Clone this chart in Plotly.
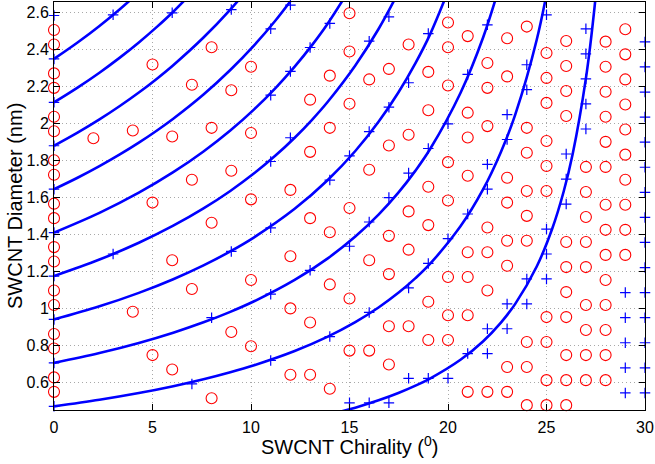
import plotly.graph_objects as go

# ---------------- data: SWCNT diameters (nm) grouped by chirality angle (deg) ----------------
angles = [0, 2, 3, 4, 5, 6, 7, 8, 9, 10, 11, 12, 13, 14, 15,
          16, 17, 18, 19, 20, 21, 22, 23, 24, 25, 26, 27, 28, 29, 30]

# semiconducting tubes (red circles)
semi_00 = [0.5481, 0.6264, 0.7830, 0.8613, 1.0180, 1.0963, 1.2529, 1.3312, 1.4878, 1.5661,
           1.7227, 1.8010, 1.9576, 2.0359, 2.1925, 2.2708, 2.4274, 2.5057]
semi_02 = [1.9196]
semi_03 = []
semi_04 = [0.9811, 1.9623]
semi_05 = [0.7470, 1.5720, 2.3189]
semi_06 = [0.6690, 1.2602, 1.9292]
semi_07 = [1.1046, 1.6958, 2.2092]
semi_08 = [0.5135, 1.4628, 1.9763, 2.4122]
semi_09 = [0.8720, 1.7439, 2.1799]
semi_10 = [0.7947, 1.1535, 1.5894, 1.9482, 2.3070]
semi_11 = []
semi_12 = [0.6410, 0.9997, 1.2819, 1.6406]
semi_13 = [0.6410, 0.9232, 1.4878, 1.8464, 2.1287]
semi_14 = [0.5647, 1.1293, 1.4117, 1.9763, 2.2586]
semi_15 = [0.7712, 1.0535, 1.5424, 2.1069, 2.3892, 2.5958]
semi_16 = [0.7712, 1.2602, 1.7492, 2.2382]
semi_17 = [0.6960, 0.9031, 1.1850, 1.3920, 1.8809, 2.2950]
semi_18 = [0.9031, 1.3173, 1.5244, 1.9387, 2.4274]
semi_19 = [0.8287, 1.0359, 1.4502, 1.6574, 2.0718, 2.2789]
semi_20 = [0.8287, 0.9622, 1.1693, 1.5836, 1.7908, 2.2051, 2.4122, 2.5458]
semi_21 = [0.5481, 0.9622, 1.1693, 1.3033, 1.7174, 1.9244, 2.0584, 2.4725]
semi_22 = [0.5481, 1.0963, 1.3033, 1.4375, 1.9856, 2.1925, 2.3268]
semi_23 = [0.5481, 0.6826, 1.2306, 1.3653, 1.5720, 1.7066, 2.2546, 2.4613]
semi_24 = [0.4763, 0.6826, 0.8175, 1.3653, 1.5001, 1.6350, 1.8414, 1.9763, 2.5240]
semi_25 = [0.4763, 0.6116, 0.8175, 0.9526, 1.6350, 1.7701, 1.9052, 2.1113, 2.2464, 2.3815]
semi_26 = [0.4763, 0.6116, 0.7470, 0.9526, 1.0878, 1.2231, 1.3585, 2.0404, 2.1757, 2.3110,
           2.4463]
semi_27 = [0.6116, 0.7470, 0.8824, 1.0180, 1.2231, 1.3585, 1.4940, 1.6294, 1.7649]
semi_28 = [0.6116, 0.7470, 0.8824, 1.0180, 1.1535, 1.2891, 1.4246, 1.5602, 1.7649, 1.9004,
           2.0359, 2.1714, 2.3070, 2.4425]
semi_29 = [1.2891, 1.4246, 1.5602, 1.6958, 1.8314, 1.9670, 2.1025, 2.2382, 2.3738, 2.5094]
semi_30 = []

# metallic tubes (blue plus signs)
metal_00 = [0.4698, 0.7047, 0.9397, 1.1746, 1.4095, 1.6444, 1.8793, 2.1142, 2.3491, 2.5840]
metal_02 = []
metal_03 = [1.2938, 2.5876]
metal_04 = []
metal_05 = []
metal_06 = [2.5982]
metal_07 = [0.5912]
metal_08 = [0.9494]
metal_09 = [1.3079, 2.6159]
metal_10 = []
metal_11 = [0.7177, 1.0765, 1.4353, 1.7942, 2.1530, 2.5118]
metal_12 = [1.9228, 2.2816, 2.6404]
metal_13 = [1.2055, 2.4110]
metal_14 = [0.8470, 1.6940, 2.5410]
metal_15 = [0.4890, 1.3358, 1.8247]
metal_16 = [0.4890, 0.9780, 1.4670, 1.9560, 2.4451]
metal_17 = [0.4890, 1.5990, 2.0880, 2.5769]
metal_18 = [0.6215, 1.1102, 1.7316, 2.2203]
metal_19 = [0.6215, 1.2431, 1.8646, 2.4861]
metal_20 = [0.6215, 1.3765, 1.9979]
metal_21 = [0.7551, 1.5103, 2.2655]
metal_22 = [0.7551, 0.8894, 1.6444, 1.7787, 2.5337]
metal_23 = [0.8894, 1.0240, 1.9133, 2.0479]
metal_24 = [1.0240, 1.1588, 2.1827, 2.3176]
metal_25 = [1.1588, 1.2938, 1.4289, 2.5876]
metal_26 = [1.5641, 1.6994, 1.8347]
metal_27 = [1.9701, 2.1055, 2.2409, 2.3764, 2.5118]
metal_28 = []
metal_29 = [0.5425, 0.6781, 0.8138, 0.9494, 1.0850]
metal_30 = [0.5425, 0.6781, 0.8138, 0.9494, 1.0850, 1.2206, 1.3563, 1.4919, 1.6275, 1.7631,
            1.8988, 2.0344, 2.1700, 2.3056, 2.4413]

# constant (n-m) family curves: chirality angle (deg) and diameter (nm)
fam03_x = [13.898, 15.295, 16.474, 17.480, 18.349, 19.107, 20.633, 21.787, 22.687, 23.413,
           24.504, 25.285, 25.872, 26.329, 26.996, 27.457, 27.796]
fam03_y = [0.4235, 0.4627, 0.5022, 0.5418, 0.5816, 0.6215, 0.7217, 0.8222, 0.9230, 1.0240,
           1.2263, 1.4289, 1.6318, 1.8347, 2.2409, 2.6473, 3.0539]
fam06_x = [0, 2.307, 4.307, 6.053, 7.589, 8.948, 10.159, 12.217, 13.898, 15.295, 16.474,
           17.480, 18.349, 19.107, 20.633, 21.787, 22.687, 23.413, 24.504, 25.285]
fam06_y = [0.4698, 0.5055, 0.5418, 0.5788, 0.6162, 0.6540, 0.6921, 0.7691, 0.8470, 0.9255,
           1.0044, 1.0837, 1.1632, 1.2430, 1.4433, 1.6444, 1.8460, 2.0479, 2.4526, 2.8578]
fam09_x = [0, 2.307, 4.307, 6.053, 7.589, 8.948, 10.159, 12.217, 13.898, 15.295, 16.474,
           17.480, 18.349, 19.107, 20.633, 21.787, 22.687]
fam09_y = [0.7047, 0.7582, 0.8128, 0.8682, 0.9243, 0.9810, 1.0382, 1.1537, 1.2705, 1.3882,
           1.5066, 1.6255, 1.7449, 1.8646, 2.1650, 2.4666, 2.7690]
fam12_x = [0, 2.307, 4.307, 6.053, 7.589, 8.948, 10.159, 12.217, 13.898, 15.295, 16.474,
           17.480, 18.349, 19.107, 20.633]
fam12_y = [0.9397, 1.0110, 1.0837, 1.1575, 1.2323, 1.3079, 1.3842, 1.5383, 1.6940, 1.8509,
           2.0088, 2.1673, 2.3265, 2.4861, 2.8867]
fam15_x = [0, 2.307, 4.307, 6.053, 7.589, 8.948, 10.159, 11.242, 12.217, 13.098, 13.898,
           15.295, 16.474, 17.480]
fam15_y = [1.1746, 1.2637, 1.3546, 1.4469, 1.5404, 1.6349, 1.7302, 1.8263, 1.9229, 2.0200,
           2.1175, 2.3136, 2.5109, 2.7092]
fam18_x = [0, 2.307, 4.307, 6.053, 7.589, 8.948, 10.159, 11.242, 12.217, 13.098, 13.898, 15.295]
fam18_y = [1.4095, 1.5164, 1.6255, 1.7363, 1.8485, 1.9619, 2.0763, 2.1915, 2.3074, 2.4239,
           2.5410, 2.7764]
fam21_x = [0, 1.196, 2.307, 3.341, 4.307, 5.209, 6.053, 7.589, 8.948, 10.159, 11.242, 12.217]
fam21_y = [1.6444, 1.7064, 1.7692, 1.8325, 1.8964, 1.9608, 2.0257, 2.1566, 2.2889, 2.4223,
           2.5568, 2.6920]
fam24_x = [0, 1.196, 2.307, 3.341, 4.307, 5.209, 6.053, 7.589, 8.948, 10.159]
fam24_y = [1.8793, 1.9502, 2.0219, 2.0943, 2.1673, 2.2409, 2.3151, 2.4647, 2.6159, 2.7684]
fam27_x = [0, 1.196, 2.307, 3.341, 4.307, 5.209, 6.053, 7.589]
fam27_y = [2.1142, 2.1940, 2.2746, 2.3561, 2.4382, 2.5210, 2.6044, 2.7728]
fam30_x = [0, 1.196, 2.307, 3.341, 4.307]
fam30_y = [2.3491, 2.4378, 2.5274, 2.6179, 2.7092]

x_ticks = [0, 5, 10, 15, 20, 25, 30]
y_ticks = [0.6, 0.8, 1.0, 1.2, 1.4, 1.6, 1.8, 2.0, 2.2, 2.4, 2.6]
y_tick_labels = ["0.6", "0.8", "1", "1.2", "1.4", "1.6", "1.8", "2", "2.2", "2.4", "2.6"]

# ---------------- assemble ----------------
semi_cols = [semi_00, semi_02, semi_03, semi_04, semi_05, semi_06, semi_07, semi_08, semi_09,
             semi_10, semi_11, semi_12, semi_13, semi_14, semi_15, semi_16, semi_17, semi_18,
             semi_19, semi_20, semi_21, semi_22, semi_23, semi_24, semi_25, semi_26, semi_27,
             semi_28, semi_29, semi_30]
metal_cols = [metal_00, metal_02, metal_03, metal_04, metal_05, metal_06, metal_07, metal_08,
              metal_09, metal_10, metal_11, metal_12, metal_13, metal_14, metal_15, metal_16,
              metal_17, metal_18, metal_19, metal_20, metal_21, metal_22, metal_23, metal_24,
              metal_25, metal_26, metal_27, metal_28, metal_29, metal_30]

sx = [a for a, col in zip(angles, semi_cols) for _ in col]
sy = [d for col in semi_cols for d in col]
mx = [a for a, col in zip(angles, metal_cols) for _ in col]
my = [d for col in metal_cols for d in col]

families = [(fam03_x, fam03_y), (fam06_x, fam06_y), (fam09_x, fam09_y), (fam12_x, fam12_y),
            (fam15_x, fam15_y), (fam18_x, fam18_y), (fam21_x, fam21_y), (fam24_x, fam24_y),
            (fam27_x, fam27_y), (fam30_x, fam30_y)]

fig = go.Figure()

for fx, fy in families:
    fig.add_trace(go.Scatter(x=fx, y=fy, mode="lines",
                             line=dict(color="#0000FF", width=2.6, shape="spline", smoothing=1.0),
                             hoverinfo="skip", showlegend=False))

fig.add_trace(go.Scatter(x=sx, y=sy, mode="markers", cliponaxis=False, showlegend=False,
                         marker=dict(symbol="circle-open", size=11, color="#FF0000",
                                     line=dict(color="#FF0000", width=1.1))))
fig.add_trace(go.Scatter(x=mx, y=my, mode="markers", cliponaxis=False, showlegend=False,
                         marker=dict(symbol="cross-thin", size=7.5, color="#0000FF",
                                     line=dict(color="#0000FF", width=1.2))))

axis_common = dict(showline=True, linecolor="black", linewidth=1, mirror="ticks",
                   ticks="inside", ticklen=6, tickwidth=1, tickcolor="black",
                   showgrid=True, gridcolor="#A8A8A8", gridwidth=1, griddash="1px,3px",
                   zeroline=False,
                   tickfont=dict(family="Liberation Sans, Arial, sans-serif", size=16, color="black"))

fig.update_xaxes(range=[0, 30], tickvals=x_ticks, ticktext=[str(v) for v in x_ticks],
                 ticklabelstandoff=3, **axis_common)
fig.update_yaxes(range=[0.45, 2.657], tickvals=y_ticks, ticktext=y_tick_labels,
                 ticklabelstandoff=1, **axis_common)

fig.add_annotation(text="SWCNT Chirality (<sup>0</sup>)", xref="paper", yref="paper",
                   x=0.5, y=-0.086, xanchor="center", yanchor="middle", showarrow=False,
                   font=dict(family="Liberation Sans, Arial, sans-serif", size=20, color="black"))
fig.add_annotation(text="SWCNT Diameter (nm)", xref="paper", yref="paper",
                   x=-0.066, y=0.5, xanchor="center", yanchor="middle", showarrow=False,
                   textangle=-90,
                   font=dict(family="Liberation Sans, Arial, sans-serif", size=20, color="black"))

fig.update_layout(width=655, height=464, margin=dict(l=54, r=10, t=2, b=54),
                  plot_bgcolor="white", paper_bgcolor="white")

fig.write_html("out.html")
